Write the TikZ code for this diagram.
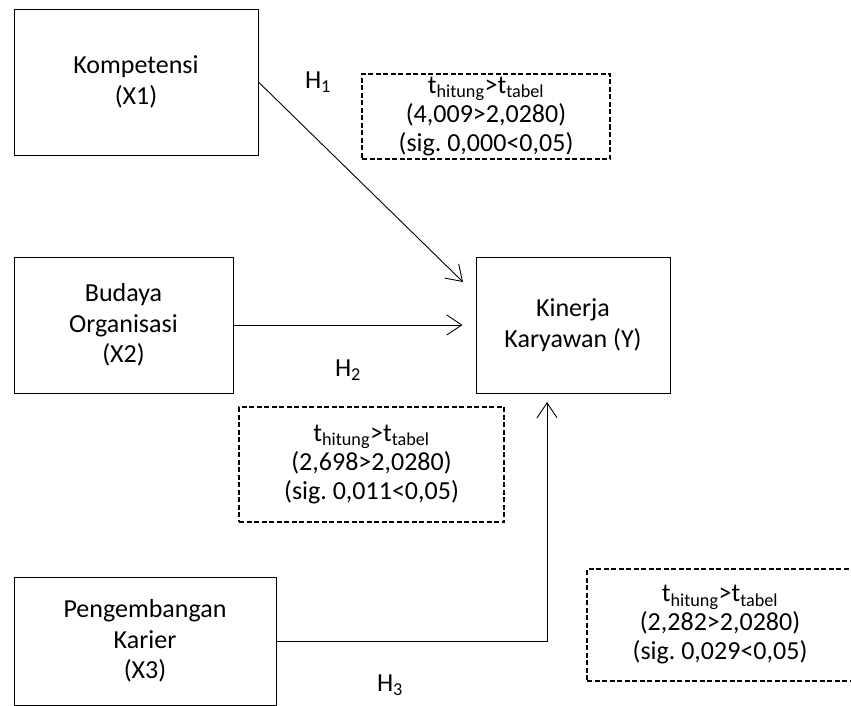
\documentclass[tikz,border=0pt]{standalone}
\usepackage{fontspec}
\setmainfont{Carlito}
\usetikzlibrary{arrows.meta,calc}

\begin{document}
\begin{tikzpicture}[x=1pt,y=-1pt]
	\tikzset{var/.style={draw,line width=0.9pt,align=center,inner sep=0pt,font=\fontsize{26}{30.5}\selectfont},
		uji/.style={draw,dash pattern=on 5pt off 2.5pt,line width=1.2pt,align=center,inner sep=0pt,font=\fontsize{26}{29}\selectfont},
		hip/.style={inner sep=0pt,font=\fontsize{26}{30}\selectfont},
		panah/.style={line width=0.9pt,-{Straight Barb[length=15pt,width=20pt]}}}
	\useasboundingbox (0,0) rectangle (851,706);
	
	\node[var,minimum width=244,minimum height=146](X1) at (136,82) {Kompetensi\\(X1)};
	\node[var,minimum width=219,minimum height=136](X2) at (123.5,325) {Budaya\\Organisasi\\(X2)};
	\node[var,minimum width=262,minimum height=128](X3) at (145,641) {Pengembangan\\Karier\\(X3)};
	\node[var,minimum width=194,minimum height=136](Y) at (573,325) {Kinerja\\Karyawan (Y)};
	
	\node[uji,minimum width=248,minimum height=85](U1) at (486,116.5) {t\textsubscript{hitung}>t\textsubscript{tabel}\\(4,009>2,0280)\\(sig.\ 0,000<0,05)};
	\node[uji,minimum width=265,minimum height=115](U2) at (371.5,464.5) {t\textsubscript{hitung}>t\textsubscript{tabel}\\(2,698>2,0280)\\(sig.\ 0,011<0,05)};
	\node[uji,minimum width=266,minimum height=112](U3) at (720,625) {t\textsubscript{hitung}>t\textsubscript{tabel}\\(2,282>2,0280)\\(sig.\ 0,029<0,05)};
	
	\node[hip](H1) at (318,82) {H\textsubscript{1}};
	\node[hip](H2) at (348,370) {H\textsubscript{2}};
	\node[hip](H3) at (390,685) {H\textsubscript{3}};
	
	\coordinate (t1) at (463,282);
	\coordinate (t3) at (547,402);
	\draw[panah] (X1.east) -- (t1);
	\draw[panah] (X2.east) -- ($(Y.west)+(-13,0)$);
	\draw[panah] (X3.east) -| (t3);
\end{tikzpicture}
\end{document}
